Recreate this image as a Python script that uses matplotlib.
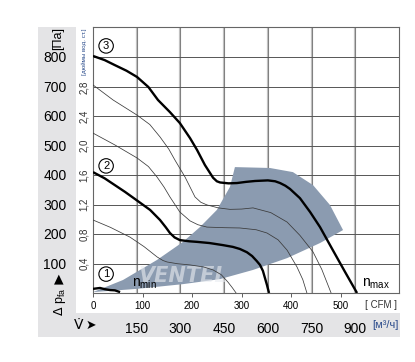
import matplotlib.pyplot as plt
import matplotlib.patches as patches
from matplotlib import font_manager

# --- data (flow in m3/h, pressure in Pa) ---
curve3_q = [0, 40, 75, 115, 151, 190, 223, 264, 298, 333, 357, 384, 412, 425, 436, 465, 494, 525, 556, 600,
            625, 642, 660, 676, 710, 745, 779, 823, 865, 906]
curve3_p = [802, 788, 771, 752, 731, 697, 653, 612, 575, 524, 484, 433, 390, 378, 374, 371, 372, 376, 379, 381,
            378, 372, 363, 352, 321, 274, 223, 145, 71, 0]

curve2_q = [0, 40, 75, 110, 144, 196, 230, 250, 264, 280, 298, 330, 357, 400, 446, 480, 504, 528, 546, 562, 573,
            583, 590, 597, 604]
curve2_p = [409, 388, 365, 342, 318, 281, 247, 222, 203, 188, 179, 175, 173, 169, 162, 156, 149, 138, 125, 108, 95,
            75, 51, 27, 0]

curve1_q = [0, 24, 40, 58, 75, 93]
curve1_p = [14, 17, 13, 10, 9, 3]

thin1_q = [0, 60, 127, 175, 220, 240, 254, 290, 333, 380, 412, 440, 463, 478, 491]
thin1_p = [247, 222, 189, 157, 122, 110, 105, 99, 95, 88, 78, 62, 37, 18, 0]

thin2_q = [0, 75, 151, 190, 220, 244, 264, 298, 333, 360, 391, 450, 504, 560, 597, 635, 666, 700, 720, 734]
thin2_p = [541, 501, 457, 428, 392, 358, 325, 274, 244, 231, 223, 221, 220, 214, 203, 180, 145, 88, 45, 0]

thin3_q = [0, 69, 151, 195, 230, 260, 281, 316, 350, 370, 391, 430, 470, 510, 549, 610, 666, 710, 755, 785,
           813, 817]
thin3_p = [704, 653, 602, 570, 528, 487, 450, 392, 325, 307, 298, 288, 283, 284, 288, 272, 240, 195, 139, 80,
           10, 0]

area_q = [0, 103, 220, 309, 367, 425, 470, 487, 607, 686, 755, 813, 858,
          779, 666, 549, 436, 309, 151, 0]
area_p = [3, 44, 112, 173, 223, 281, 359, 426, 423, 409, 365, 298, 213,
          169, 118, 78, 47, 30, 14, 3]

pa_ticks = [100, 200, 300, 400, 500, 600, 700, 800]
m3h_ticks = [150, 300, 450, 600, 750, 900]
cfm_ticks = [0, 100, 200, 300, 400, 500]
inch_ticks = [0.4, 0.8, 1.2, 1.6, 2.0, 2.4, 2.8, 3.2]
inch_labels = ["0,4", "0,8", "1,2", "1,6", "2,0", "2,4", "2,8"]

PA_PER_INCH = 249.09
M3H_PER_CFM = 1.699

names = {f.name for f in font_manager.fontManager.ttflist}
narrow = "Liberation Sans Narrow" if "Liberation Sans Narrow" in names else "Liberation Sans"
plt.rcParams['font.family'] = [narrow, 'DejaVu Sans']

W, H = 415, 362
fig = plt.figure(figsize=(W / 100, H / 100), dpi=100)


def fx(x):
    return x / W


def fy(y):
    return 1 - y / H


# gray L-shaped background
fig.patches.append(patches.Rectangle((fx(38), fy(337)), fx(38), (337 - 27) / H,
                                     transform=fig.transFigure, facecolor="#e4e4e6", edgecolor="none", zorder=-5))
fig.patches.append(patches.Rectangle((fx(38), fy(337)), fx(362), 24 / H,
                                     transform=fig.transFigure, facecolor="#e4e4e6", edgecolor="none", zorder=-5))

ax = fig.add_axes([fx(93), fy(293), fx(306), 266 / H])
ax.set_xlim(0, 1050)
ax.set_ylim(0, 900)
ax.patch.set_alpha(0)

for s in ax.spines.values():
    s.set_color("#666666")
    s.set_linewidth(0.8)

# grid
for q in range(150, 1050, 150):
    ax.axvline(q, color="#c0c0c0", lw=1.6, zorder=1)
    ax.axvline(q, color="#666666", lw=0.5, zorder=1)
for v in inch_ticks:
    ax.axhline(v * PA_PER_INCH, color="#555555", lw=0.7, zorder=1)

# working area
ax.fill(area_q, area_p, color="#8b9bb0", lw=0, zorder=2)

ax.text(310, 25, "VENTEL", fontsize=15, fontweight="bold", style="italic",
        color="#e9ecf1", alpha=0.6, ha="center", va="bottom", zorder=2.5,
        family=["DejaVu Sans"])

for q, p in [(thin1_q, thin1_p), (thin2_q, thin2_p), (thin3_q, thin3_p)]:
    ax.plot(q, p, color="#3a3a3a", lw=0.55, zorder=3)

for q, p in [(curve1_q, curve1_p), (curve2_q, curve2_p), (curve3_q, curve3_p)]:
    ax.plot(q, p, color="black", lw=1.7, zorder=4, solid_capstyle="butt", solid_joinstyle="round")

for lab, (q, p) in zip(["3", "2", "1"], [(45, 836), (45, 430), (45, 64)]):
    ax.text(q, p, lab, fontsize=8, ha="center", va="center", zorder=5,
            bbox=dict(boxstyle="circle,pad=0.2", fc="white", ec="black", lw=0.8))

ax.text(135, 6, r"n$_{\mathregular{min}}$", fontsize=10, ha="left", va="bottom", zorder=5)
ax.text(922, 6, r"n$_{\mathregular{max}}$", fontsize=10, ha="left", va="bottom", zorder=5)

# Pa ticks on the left
ax.set_yticks(pa_ticks)
ax.set_yticklabels([str(v) for v in pa_ticks], fontsize=10)
ax.tick_params(axis="y", length=0, pad=19)

# m3/h ticks at the bottom
ax.set_xticks(m3h_ticks)
ax.set_xticklabels([str(v) for v in m3h_ticks], fontsize=10)
ax.tick_params(axis="x", length=0, pad=21)

# CFM secondary scale
sec = ax.secondary_xaxis("bottom", functions=(lambda q: q / M3H_PER_CFM, lambda c: c * M3H_PER_CFM))
sec.set_xticks(cfm_ticks)
sec.set_xticklabels([str(v) for v in cfm_ticks], fontsize=7)
sec.tick_params(axis="x", length=3, width=0.6, color="#444444", pad=3, direction="out")
sec.spines["bottom"].set_visible(False)

# inch labels
tr = ax.get_yaxis_transform()
for v, lab in zip(inch_ticks, inch_labels):
    ax.text(-0.029, v * PA_PER_INCH, lab, transform=tr, rotation=90, fontsize=7,
            ha="center", va="center", color="#333333", clip_on=False)
ax.text(-0.029, 0.995, "[дюймы вод. ст.]", transform=ax.transAxes, rotation=90, fontsize=4.5,
        ha="center", va="top", color="#2b4c8c", clip_on=False)

# axis labels and units
fig.text(fx(58), fy(38), "[Па]", rotation=90, fontsize=9, ha="center", va="center")
fig.text(fx(59), fy(279), "▲", fontsize=9, ha="center", va="center", family=["DejaVu Sans"])
fig.text(fx(60), fy(302), r"$\Delta$ p$_{\mathregular{fa}}$", rotation=90, fontsize=9,
         ha="center", va="center")
fig.text(fx(79), fy(325), "V̇", fontsize=10, ha="center", va="center", family=["DejaVu Sans"])
fig.text(fx(91), fy(325), "➤", fontsize=9, ha="center", va="center", family=["DejaVu Sans"])
fig.text(fx(385), fy(325), "[м³/ч]", fontsize=8, ha="center", va="center", color="#2b4c8c")
fig.text(fx(381), fy(305), "[ CFM ]", fontsize=7, ha="center", va="center", color="#333333")

fig.savefig("out.png", dpi=100)
